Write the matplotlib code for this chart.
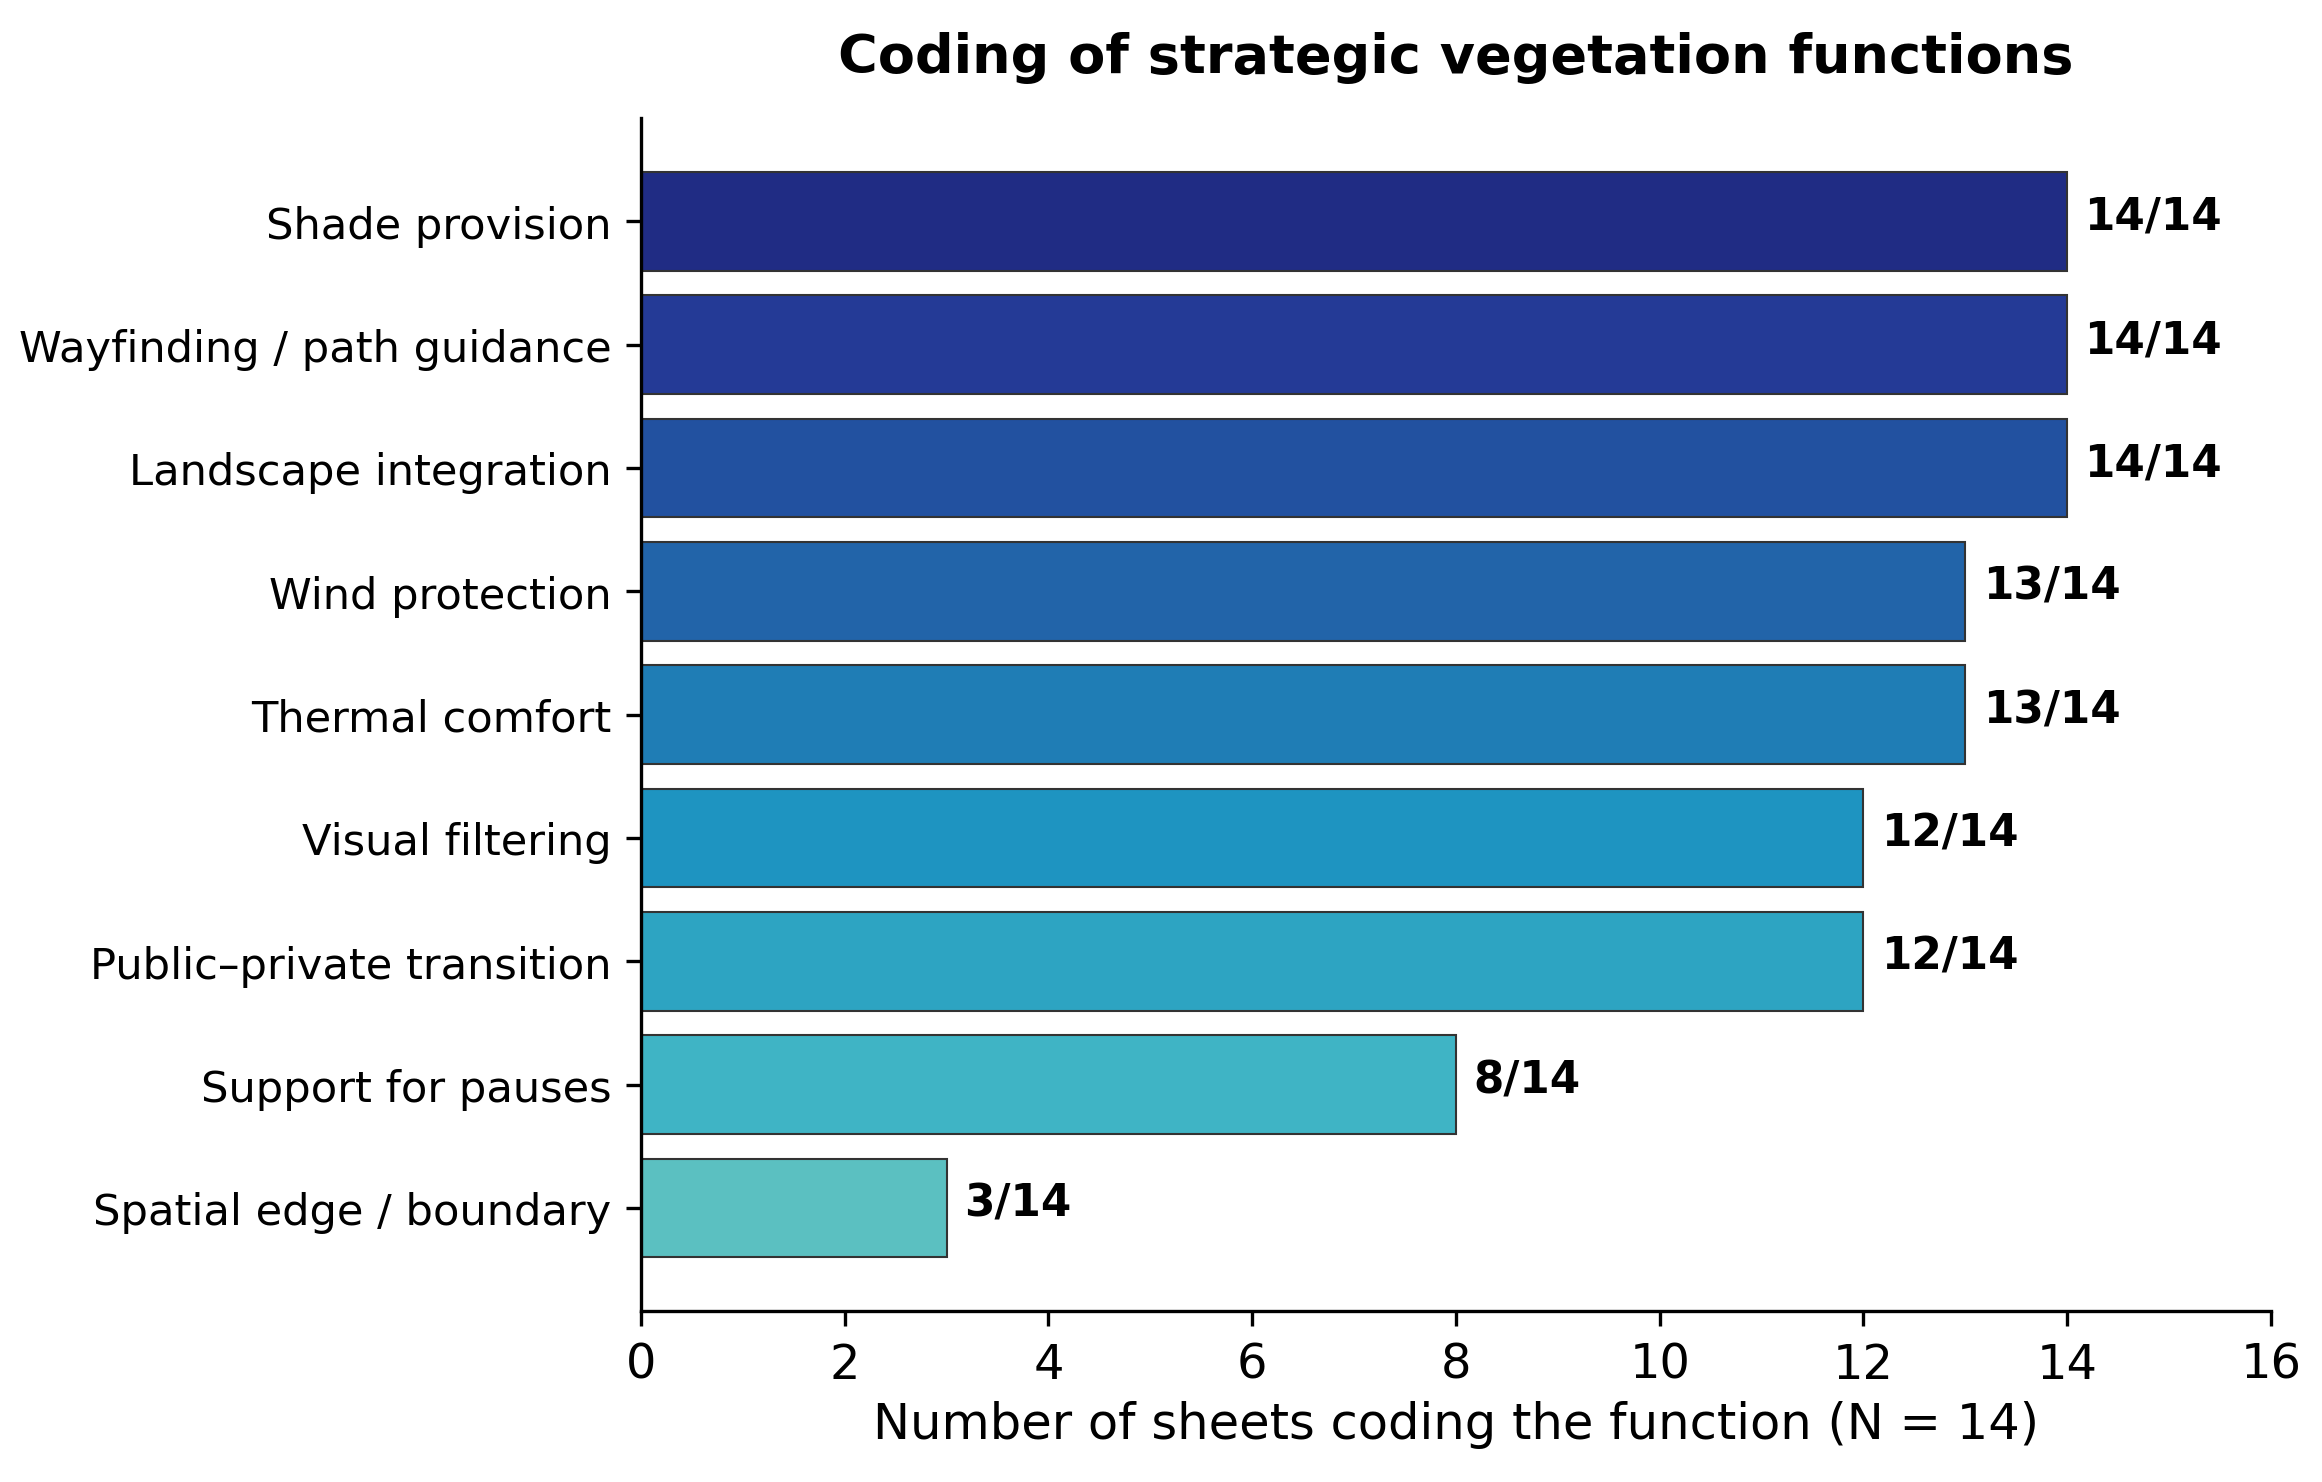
import matplotlib
matplotlib.use("Agg")
import matplotlib.pyplot as plt

functions = ["Shade provision", "Wayfinding / path guidance", "Landscape integration",
             "Wind protection", "Thermal comfort", "Visual filtering",
             "Public\u2013private transition", "Support for pauses", "Spatial edge / boundary"]
counts = [14, 14, 14, 13, 13, 12, 12, 8, 3]
N = 14
colors = ["#202c84", "#243a96", "#2251a0", "#2264a9", "#1f7db5",
          "#1e94c1", "#2da4c2", "#3fb4c5", "#5bc0c1"]

fig = plt.figure(figsize=(7.74, 4.943), dpi=300)
ax = fig.add_axes([0.276, 0.115, 0.702, 0.805])

y = list(range(len(functions)))
ax.barh(y, counts, height=0.8, color=colors, edgecolor="#333333", linewidth=0.5)
for yi, c in zip(y, counts):
    ax.text(c + 0.17, yi - 0.04, f"{c}/{N}", va="center", ha="left",
            fontsize=10.5, fontweight="bold")

ax.set_yticks(y)
ax.set_yticklabels(functions, fontsize=10.4)
ax.invert_yaxis()
ax.set_xlim(0, 16)
ax.set_xticks(range(0, 17, 2))
ax.tick_params(axis="x", labelsize=11.5)
ax.set_xlabel(f"Number of sheets coding the function (N = {N})", fontsize=11.9, labelpad=3)
ax.set_title("Coding of strategic vegetation functions", fontsize=13,
             fontweight="bold", pad=11)
ax.spines["top"].set_visible(False)
ax.spines["right"].set_visible(False)

fig.savefig("out.png", dpi=300)
